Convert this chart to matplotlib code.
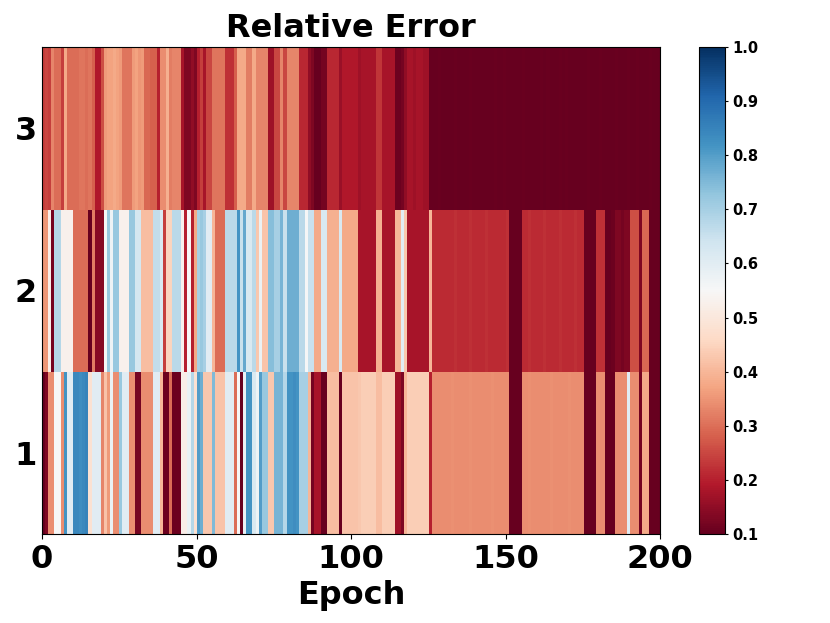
import numpy as np
import matplotlib
matplotlib.use("Agg")
import matplotlib.pyplot as plt

row_labels = ["1", "2", "3"]
x_ticks = [0, 50, 100, 150, 200]
cbar_ticks = [0.1, 0.2, 0.3, 0.4, 0.5, 0.6, 0.7, 0.8, 0.9, 1.0]

row3 = [
 .24,.25,.24,.33,.30,.30,.24,.38,.30,.30,
 .30,.30,.31,.31,.30,.31,.28,.19,.19,.26,
 .36,.37,.37,.38,.37,.36,.31,.31,.31,.36,
 .37,.35,.36,.29,.29,.28,.28,.20,.34,.34,
 .39,.32,.33,.33,.33,.18,.13,.13,.15,.13,
 .20,.24,.18,.25,.25,.31,.31,.31,.31,.22,
 .22,.22,.28,.38,.38,.38,.32,.32,.38,.33,
 .33,.33,.33,.17,.17,.25,.25,.33,.25,.33,
 .33,.33,.33,.21,.21,.21,.15,.13,.10,.10,
 .12,.12,.21,.21,.21,.21,.16,.19,.19,.19,
 .19,.19,.17,.18,.18,.18,.18,.18,.23,.23,
 .18,.18,.18,.18,.11,.11,.12,.15,.18,.18,
 .17,.18,.18,.17,.17,.10,.10,.10,.105,.10,
 .10,.10,.10,.105,.10,.10,.10,.10,.105,.10,
 .10,.10,.10,.10,.10,.10,.105,.10,.10,.105,
 .10,.10,.10,.10,.10,.105,.10,.10,.10,.10,
 .10,.105,.10,.105,.10,.10,.10,.105,.10,.105,
 .10,.10,.10,.10,.10,.10,.105,.10,.10,.10,
 .105,.10,.10,.10,.10,.105,.10,.10,.10,.105,
 .10,.10,.105,.10,.10,.10,.105,.10,.10,.10,
]
row2 = [
 .35,.35,.52,.12,.68,.68,.53,.53,.53,.53,
 .30,.30,.30,.30,.30,.10,.32,.14,.14,.14,
 .55,.72,.57,.72,.72,.53,.53,.53,.72,.72,
 .63,.63,.41,.41,.41,.41,.66,.66,.62,.24,
 .45,.45,.67,.67,.67,.53,.20,.55,.20,.38,
 .70,.72,.70,.60,.60,.40,.30,.30,.30,.67,
 .67,.67,.67,.82,.65,.78,.62,.62,.67,.43,
 .58,.42,.42,.74,.74,.70,.70,.76,.65,.77,
 .77,.77,.77,.67,.67,.55,.65,.65,.38,.38,
 .62,.62,.39,.39,.39,.39,.62,.38,.38,.38,
 .38,.38,.18,.18,.18,.18,.18,.18,.39,.39,
 .18,.18,.18,.18,.40,.40,.60,.43,.18,.18,
 .18,.18,.18,.18,.18,.40,.215,.215,.215,.215,
 .215,.215,.215,.22,.215,.215,.215,.215,.22,.215,
 .215,.215,.215,.22,.215,.215,.215,.215,.215,.215,
 .22,.10,.10,.10,.10,.215,.215,.22,.215,.215,
 .215,.215,.22,.215,.215,.215,.215,.22,.215,.215,
 .215,.215,.22,.215,.215,.10,.10,.10,.10,.22,
 .22,.22,.10,.10,.11,.13,.13,.12,.13,.13,
 .26,.26,.26,.13,.29,.29,.10,.10,.10,.10,
]
row1 = [
 .10,.13,.34,.34,.55,.55,.34,.82,.60,.60,
 .84,.84,.83,.84,.85,.48,.60,.60,.60,.33,
 .42,.36,.58,.34,.34,.72,.60,.60,.34,.34,
 .12,.12,.34,.34,.34,.34,.60,.60,.40,.11,
 .11,.30,.11,.11,.11,.52,.52,.58,.68,.48,
 .80,.77,.43,.43,.43,.75,.42,.42,.42,.60,
 .60,.60,.30,.55,.10,.58,.82,.82,.62,.57,
 .80,.72,.72,.43,.43,.76,.76,.76,.68,.82,
 .82,.83,.82,.70,.70,.70,.40,.12,.18,.18,
 .10,.10,.41,.41,.41,.41,.10,.42,.42,.42,
 .42,.42,.43,.44,.44,.44,.44,.44,.41,.41,
 .44,.44,.44,.44,.17,.17,.13,.40,.44,.44,
 .44,.44,.44,.44,.44,.20,.34,.34,.34,.34,
 .34,.34,.345,.34,.34,.34,.34,.34,.345,.34,
 .34,.34,.34,.34,.34,.345,.34,.34,.34,.34,
 .34,.10,.10,.10,.10,.34,.34,.345,.34,.34,
 .34,.34,.34,.34,.345,.34,.34,.34,.34,.34,
 .345,.34,.34,.34,.34,.10,.10,.10,.10,.34,
 .34,.34,.10,.10,.10,.34,.34,.34,.34,.60,
 .34,.34,.34,.12,.38,.38,.10,.10,.10,.10,
]

fig = plt.figure(figsize=(8.3, 6.23), dpi=100)
ax = fig.add_axes([42/830, 1-534/623, (660-42)/830, (534-47)/623])
cax = fig.add_axes([699/830, 1-534/623, (725-699)/830, (534-47)/623])

data = np.array([row1, row2, row3])
im = ax.imshow(data, cmap="RdBu", vmin=0.1, vmax=1.0, origin="lower", aspect="auto",
               extent=[0, 200, 0.5, 3.5], interpolation="antialiased")
ax.set_xticks(x_ticks)
ax.set_xticklabels([str(t) for t in x_ticks], fontsize=23, fontweight="bold")
ax.set_yticks([1, 2, 3])
ax.set_yticklabels(row_labels, fontsize=23, fontweight="bold")
ax.tick_params(axis="y", length=0, pad=3.5)
ax.set_xlabel("Epoch", fontsize=23, fontweight="bold", labelpad=4)
ax.set_title("Relative Error", fontsize=23, fontweight="bold", pad=7.5)

cb = fig.colorbar(im, cax=cax)
cb.set_ticks(cbar_ticks)
cb.set_ticklabels([f"{t:.1f}" for t in cbar_ticks])
cb.ax.tick_params(length=2.5, pad=3)
for lab in cb.ax.get_yticklabels():
    lab.set_fontsize(10.5)
    lab.set_fontweight("bold")

fig.savefig("out.png", dpi=100)
